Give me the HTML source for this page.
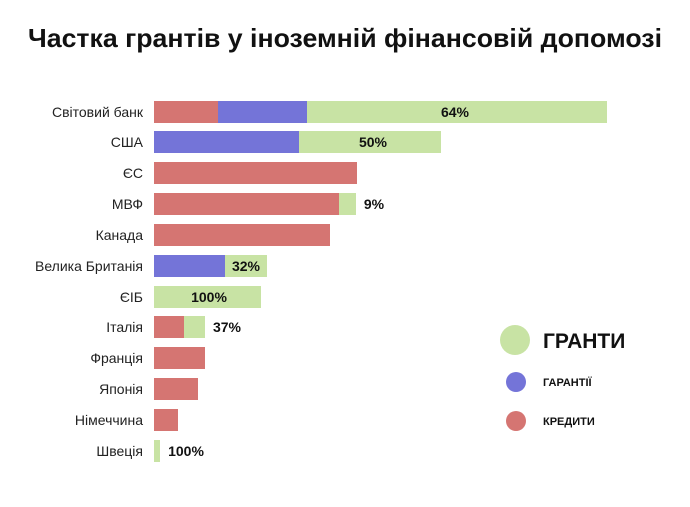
<!DOCTYPE html>
<html><head><meta charset="utf-8"><style>
html,body{margin:0;padding:0;background:#fff;}
svg{display:block;font-family:"Liberation Sans",sans-serif;}
</style></head><body>
<svg width="690" height="507" viewBox="0 0 690 507">
<rect width="690" height="507" fill="#fff"/>
<text x="345" y="47" text-anchor="middle" font-size="26" font-weight="bold" fill="#111" textLength="634" lengthAdjust="spacingAndGlyphs">Частка грантів у іноземній фінансовій допомозі</text>
<g font-size="14" fill="#222" text-anchor="end">
<text x="143" y="117">Світовий банк</text>
<text x="143" y="147">США</text>
<text x="143" y="178">ЄС</text>
<text x="143" y="209">МВФ</text>
<text x="143" y="240">Канада</text>
<text x="143" y="271">Велика Британія</text>
<text x="143" y="302">ЄІБ</text>
<text x="143" y="332">Італія</text>
<text x="143" y="363">Франція</text>
<text x="143" y="394">Японія</text>
<text x="143" y="425">Німеччина</text>
<text x="143" y="456">Швеція</text>
</g>
<g>
<rect x="154" y="101" width="64" height="22" fill="#d57572"/>
<rect x="218" y="101" width="89" height="22" fill="#7474d8"/>
<rect x="307" y="101" width="300" height="22" fill="#c8e3a4"/>
<rect x="154" y="131" width="145" height="22" fill="#7474d8"/>
<rect x="299" y="131" width="142" height="22" fill="#c8e3a4"/>
<rect x="154" y="162" width="203" height="22" fill="#d57572"/>
<rect x="154" y="193" width="185" height="22" fill="#d57572"/>
<rect x="339" y="193" width="17" height="22" fill="#c8e3a4"/>
<rect x="154" y="224" width="176" height="22" fill="#d57572"/>
<rect x="154" y="255" width="71" height="22" fill="#7474d8"/>
<rect x="225" y="255" width="42" height="22" fill="#c8e3a4"/>
<rect x="154" y="286" width="107" height="22" fill="#c8e3a4"/>
<rect x="154" y="316" width="30" height="22" fill="#d57572"/>
<rect x="184" y="316" width="21" height="22" fill="#c8e3a4"/>
<rect x="154" y="347" width="51" height="22" fill="#d57572"/>
<rect x="154" y="378" width="44" height="22" fill="#d57572"/>
<rect x="154" y="409" width="24" height="22" fill="#d57572"/>
<rect x="154" y="440" width="6" height="22" fill="#c8e3a4"/>
</g>
<g font-size="14" font-weight="bold" fill="#111" text-anchor="middle">
<text x="455" y="117">64%</text>
<text x="373" y="147">50%</text>
<text x="374" y="209">9%</text>
<text x="246" y="271">32%</text>
<text x="209" y="302">100%</text>
<text x="227" y="332">37%</text>
<text x="186" y="456">100%</text>
</g>
<circle cx="515" cy="340" r="15" fill="#c8e3a4"/>
<text x="543" y="348" font-size="21" font-weight="bold" fill="#111">ГРАНТИ</text>
<circle cx="516" cy="382" r="10" fill="#7474d8"/>
<text x="543" y="386" font-size="11" font-weight="bold" fill="#111">ГАРАНТІЇ</text>
<circle cx="516" cy="421" r="10" fill="#d57572"/>
<text x="543" y="425" font-size="11" font-weight="bold" fill="#111">КРЕДИТИ</text>
</svg>
</body></html>
